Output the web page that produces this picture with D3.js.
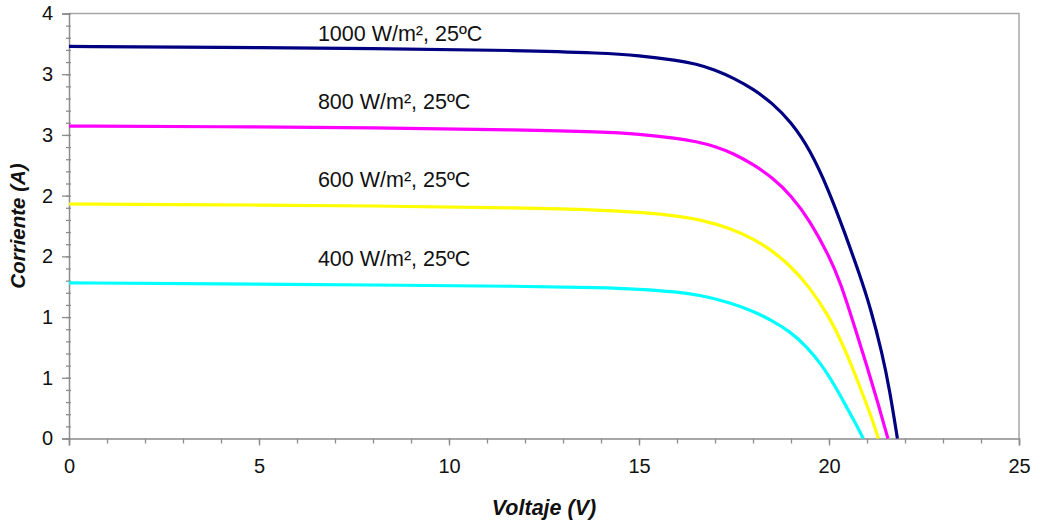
<!DOCTYPE html>
<html lang="es">
<head>
  <meta charset="UTF-8">
  <title>Curvas I-V - Irradiancia</title>
  <script src="https://d3js.org/d3.v7.min.js"></script>
  <style>
    body { margin: 0; background: #fff; }
    svg { display: block; font-family: "Liberation Sans", Arial, sans-serif; }
  </style>
</head>
<body>
<div id="chart"></div>
<script>
// Curvas I-V del modulo a distintas irradiancias (V, A)
const curve1000 = [[0,3.69],[4,3.682],[8,3.672],[12,3.652],[14,3.628],[15,3.605],[16,3.56],[16.5,3.525],[17,3.47],[17.5,3.39],[18,3.29],[18.5,3.16],[19,2.98],[19.5,2.72],[20.0,2.33],[20.4,1.95],[20.8,1.55],[21.1,1.22],[21.4,0.80],[21.6,0.45],[21.8,0]];
const curve800 = [[0,2.94],[4,2.935],[8,2.925],[12,2.905],[14,2.885],[15,2.865],[16,2.825],[16.5,2.795],[17,2.75],[17.5,2.68],[18,2.58],[18.5,2.46],[19,2.29],[19.5,2.05],[20,1.72],[20.3,1.47],[20.65,1.08],[21,0.68],[21.3,0.32],[21.55,0]];
const curve600 = [[0,2.207],[4,2.2],[8,2.19],[12,2.17],[14,2.15],[15,2.13],[16,2.095],[16.6,2.06],[17.4,1.98],[18,1.88],[18.5,1.77],[19,1.62],[19.5,1.42],[20,1.15],[20.4,0.86],[20.8,0.50],[21.1,0.22],[21.3,0]];
const curve400 = [[0,1.465],[4,1.455],[8,1.445],[12,1.433],[14,1.42],[15,1.405],[16,1.38],[16.6,1.35],[17.4,1.28],[18,1.20],[18.5,1.11],[19,1.00],[19.4,0.87],[19.8,0.70],[20.2,0.47],[20.5,0.27],[20.75,0.11],[20.9,0]];

const seriesNames = ["1000 W/m², 25ºC", "800 W/m², 25ºC", "600 W/m², 25ºC", "400 W/m², 25ºC"];
const seriesColors = ["#000080", "#ff00ff", "#ffff00", "#00ffff"];
const seriesData = [curve1000, curve800, curve600, curve400];

const xTicks = [0, 5, 10, 15, 20, 25];
// eje Y: 7 divisiones de 4/7 A, etiquetas redondeadas como en el original
const yTicks = [0, 4/7, 8/7, 12/7, 16/7, 20/7, 24/7, 4];
const yTickLabels = ["0", "1", "1", "2", "2", "3", "3", "4"];

const W = 1040, H = 524;
const margin = { top: 13.5, right: 21, bottom: 85.5, left: 69 };
const width = W - margin.left - margin.right;
const height = H - margin.top - margin.bottom;

const svg = d3.select("#chart").append("svg")
  .attr("width", W)
  .attr("height", H);

const g = svg.append("g")
  .attr("transform", `translate(${margin.left},${margin.top})`);

const x = d3.scaleLinear().domain([0, 25]).range([0, width]);
const y = d3.scaleLinear().domain([0, 4]).range([height, 0]);

const axisColor = "#8c8c8c";

// marco superior y derecho
g.append("path")
  .attr("d", `M0,0H${width}V${height}`)
  .attr("fill", "none")
  .attr("stroke", "#a6a6a6")
  .attr("stroke-width", 1.5);

// ticks menores
g.append("g")
  .attr("transform", `translate(0,${height})`)
  .call(d3.axisBottom(x).tickValues(d3.range(0, 26, 1)).tickSize(5).tickFormat(""))
  .call(s => s.select(".domain").remove())
  .selectAll("line").attr("stroke", axisColor).attr("stroke-width", 1.3);

g.append("g")
  .attr("transform", "translate(2,0)")
  .call(d3.axisLeft(y).tickValues(d3.range(0, 36).map(i => i * 4 / 35)).tickSize(5).tickFormat(""))
  .call(s => s.select(".domain").remove())
  .selectAll("line").attr("stroke", axisColor).attr("stroke-width", 1.3);

// eje X
const xAxis = g.append("g")
  .attr("transform", `translate(0,${height})`)
  .call(d3.axisBottom(x).tickValues(xTicks).tickSize(7).tickPadding(13));
xAxis.select(".domain").attr("stroke", axisColor).attr("stroke-width", 1.5);
xAxis.selectAll("line").attr("stroke", axisColor).attr("stroke-width", 1.3);
xAxis.selectAll("text")
  .attr("fill", "#111")
  .style("font-size", "20px")
  .style("font-family", "'Liberation Sans', Arial, sans-serif");

// eje Y
const yAxis = g.append("g")
  .call(d3.axisLeft(y).tickValues(yTicks).tickSize(7)
    .tickFormat((d, i) => yTickLabels[i]).tickPadding(9));
yAxis.select(".domain").attr("stroke", axisColor).attr("stroke-width", 1.5);
yAxis.selectAll("line").attr("stroke", axisColor).attr("stroke-width", 1.3);
yAxis.selectAll("text")
  .attr("fill", "#111")
  .style("font-size", "20px")
  .style("font-family", "'Liberation Sans', Arial, sans-serif");

// curvas
const line = d3.line()
  .x(d => x(d[0]))
  .y(d => y(d[1]))
  .curve(d3.curveBasis);

g.selectAll(".iv")
  .data(seriesData)
  .enter().append("path")
  .attr("class", "iv")
  .attr("d", line)
  .attr("fill", "none")
  .attr("stroke", (d, i) => seriesColors[i])
  .attr("stroke-width", 3.2);

// rotulos de cada curva
g.selectAll(".lbl")
  .data(seriesData)
  .enter().append("text")
  .attr("class", "lbl")
  .attr("x", x(6.55))
  .attr("y", d => Math.max(27, y(d[0][1]) - 17))
  .style("font-size", "21.5px")
  .attr("fill", "#111")
  .text((d, i) => seriesNames[i]);

// titulos de ejes
g.append("text")
  .attr("x", width / 2)
  .attr("y", height + 76)
  .attr("text-anchor", "middle")
  .style("font-size", "21.5px")
  .style("font-weight", "bold")
  .style("font-style", "italic")
  .attr("fill", "#111")
  .text("Voltaje (V)");

g.append("text")
  .attr("transform", "rotate(-90)")
  .attr("x", -height / 2)
  .attr("y", -44)
  .attr("text-anchor", "middle")
  .style("font-size", "20.5px")
  .style("font-weight", "bold")
  .style("font-style", "italic")
  .attr("fill", "#111")
  .text("Corriente (A)");
</script>
</body>
</html>
